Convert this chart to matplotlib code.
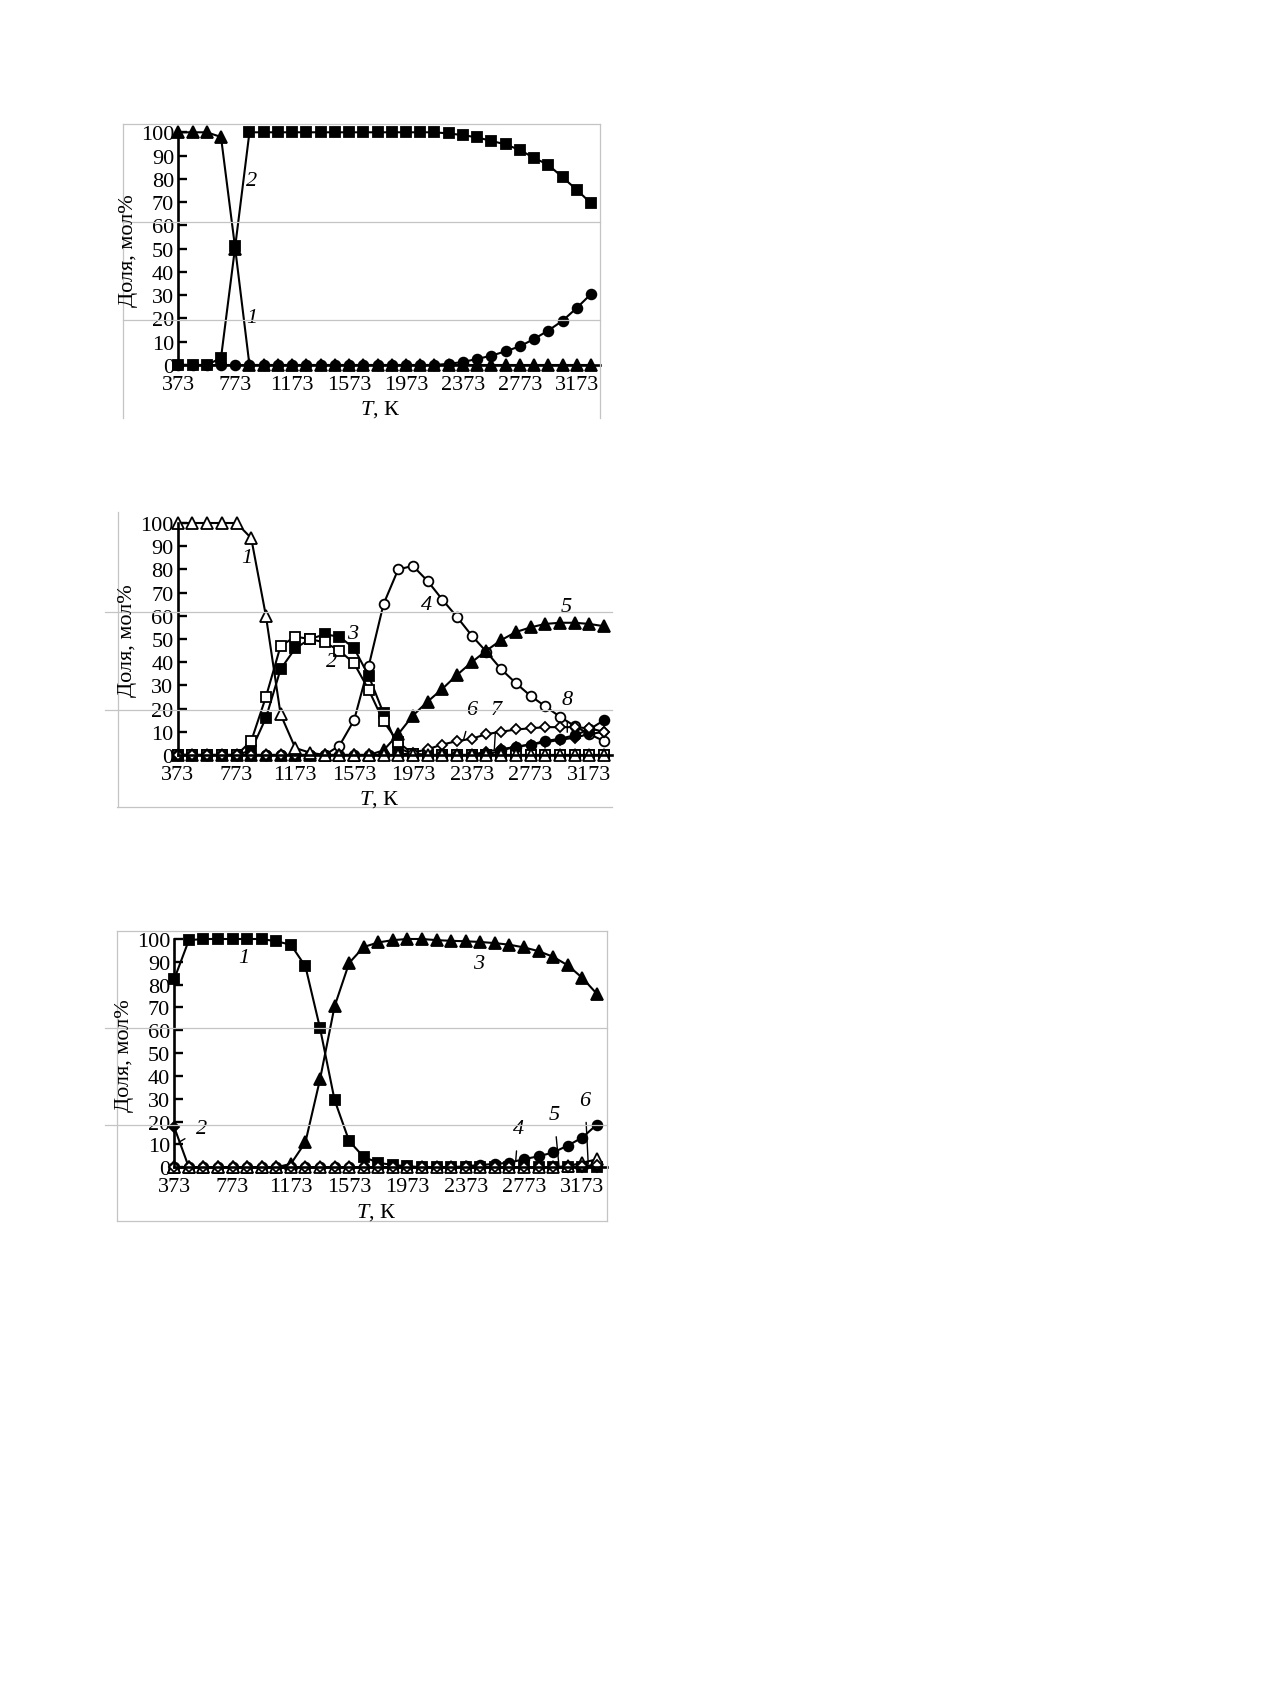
import matplotlib
matplotlib.use("Agg")
import matplotlib.pyplot as plt
from matplotlib.lines import Line2D

plt.rcParams['font.family'] = ['Liberation Serif', 'DejaVu Serif']
plt.rcParams['mathtext.fontset'] = 'custom'
plt.rcParams['mathtext.rm'] = 'Liberation Serif'
plt.rcParams['mathtext.it'] = 'Liberation Serif:italic'

W, H = 1269, 1683

# temperature grid, K
T = [373, 473, 573, 673, 773, 873, 973, 1073, 1173, 1273,
     1373, 1473, 1573, 1673, 1773, 1873, 1973, 2073, 2173, 2273,
     2373, 2473, 2573, 2673, 2773, 2873, 2973, 3073, 3173, 3273]
xticks = [373, 773, 1173, 1573, 1973, 2373, 2773, 3173]
yticks = [0, 10, 20, 30, 40, 50, 60, 70, 80, 90, 100]

# panel a
a_tri = [100, 100, 100, 98, 50, 0, 0, 0, 0, 0,
         0, 0, 0, 0, 0, 0, 0, 0, 0, 0,
         0, 0, 0, 0, 0, 0, 0, 0, 0, 0]
a_sq = [0, 0, 0, 3, 51, 100, 100, 100, 100, 100,
        100, 100, 100, 100, 100, 100, 100, 100, 100, 99.5,
        98.8, 97.8, 96.3, 94.8, 92.4, 89, 86, 80.7, 75.3, 69.5]
a_circ = [0, 0, 0, 0, 0, 0, 0, 0, 0, 0,
          0, 0, 0, 0, 0, 0, 0, 0, 0, 0.5,
          1.3, 2.6, 4, 5.9, 8, 11.2, 14.8, 19, 24.5, 30.5]

# panel b
b1 = [100, 100, 100, 100, 100, 93.5, 60, 17.5, 3, 1,
      0, 0, 0, 0, 0, 0, 0, 0, 0, 0,
      0, 0, 0, 0, 0, 0, 0, 0, 0, 0]
b2 = [0, 0, 0, 0, 0, 6, 25, 47, 51, 50,
      48.5, 45, 39.5, 28, 14.5, 5.5, 0.5, 0, 0, 0,
      0, 0, 0, 0, 0, 0, 0, 0, 0, 0]
b3 = [0, 0, 0, 0, 0, 2, 16, 37, 46, 50,
      52, 51, 46, 34, 18, 3, 0.5, 0, 0, 0,
      0, 0, 0, 0, 0, 0, 0, 0, 0, 0]
b4 = [0, 0, 0, 0, 0, 0, 0, 0, 0, 0,
      0, 4, 15, 38.5, 65, 80, 81.5, 75, 67, 59.5,
      51.5, 44.5, 37, 31, 25.5, 21, 16.5, 12.5, 9, 6]
b5 = [0, 0, 0, 0, 0, 0, 0, 0, 0, 0,
      0, 0, 0, 0, 2, 9, 17, 23, 28.5, 34.5,
      40, 45, 49.5, 53, 55, 56.5, 57, 57, 56.5, 55.5]
b6 = [0, 0, 0, 0, 0, 0, 0, 0, 0, 0,
      0, 0, 0, 0, 0, 0, 1, 2.5, 4.5, 6,
      7, 9, 10, 11, 11.5, 12, 12, 12, 11.5, 10]
b7 = [0, 0, 0, 0, 0, 0, 0, 0, 0, 0,
      0, 0, 0, 0, 0, 0, 0, 0, 0, 0,
      0, 1.5, 2.5, 3.5, 4.5, 5.5, 6.5, 7.5, 9, 10]
b8 = [0, 0, 0, 0, 0, 0, 0, 0, 0, 0,
      0, 0, 0, 0, 0, 0, 0, 0, 0, 0,
      0, 0, 2, 3.5, 4.5, 6, 7, 8.5, 11, 15]

# panel c
c1 = [82.5, 99.5, 100, 100, 100, 100, 100, 99, 97.5, 88,
      61, 29.5, 11.5, 4.5, 2, 1, 0.5, 0, 0, 0,
      0, 0, 0, 0, 0, 0, 0, 0, 0, 0]
c2 = [17.5, 0, 0, 0, 0, 0, 0, 0, 0, 0,
      0, 0, 0, 0, 0, 0, 0, 0, 0, 0,
      0, 0, 0, 0, 0, 0, 0, 0, 0, 0]
c3 = [0, 0, 0, 0, 0, 0, 0, 0, 1.5, 11,
      38.5, 70.5, 89.5, 96.5, 98.5, 99.5, 100, 100, 99.5, 99.2,
      99, 98.7, 98.2, 97.5, 96.3, 94.7, 92.2, 88.5, 83, 76]
c4 = [0, 0, 0, 0, 0, 0, 0, 0, 0, 0,
      0, 0, 0, 0, 0, 0, 0, 0, 0, 0,
      0.5, 1, 1.5, 2, 3.6, 4.8, 6.5, 9.5, 13, 18.7]
c5 = [0, 0, 0, 0, 0, 0, 0, 0, 0, 0,
      0, 0, 0, 0, 0, 0, 0, 0, 0, 0,
      0, 0, 0, 0, 0, 0, 0, 0.5, 2, 3.5]
c6 = [0, 0, 0, 0, 0, 0, 0, 0, 0, 0,
      0, 0, 0, 0, 0, 0, 0, 0, 0, 0,
      0, 0, 0, 0, 0, 0, 0, 0, 0.5, 1]

FS = 16
GRAY = '#c4c4c4'

fig = plt.figure(figsize=(W / 100, H / 100), dpi=100)


def fx(px):
    return px / W


def fy(py):
    return 1 - py / H


def make_axes(left, right, top, bottom, step):
    ax = fig.add_axes([fx(left), fy(bottom), (right - left) / W, (bottom - top) / H])
    ax.set_xlim(373, 373 + (right - left) / step * 100)
    ax.set_ylim(0, 100)
    for s in ['top', 'right']:
        ax.spines[s].set_visible(False)
    for s in ['left', 'bottom']:
        ax.spines[s].set_linewidth(1.9)
    ax.set_xticks(xticks)
    ax.set_yticks(yticks)
    ax.tick_params(axis='y', direction='in', length=6.5, width=1.7, pad=3, labelsize=FS)
    ax.tick_params(axis='x', length=0, pad=7, labelsize=FS)
    ax.patch.set_alpha(0)
    # y label and x label
    fig.text(fx(left - 50), fy((top + bottom) / 2 + 1), 'Доля, мол%', rotation=90,
             ha='center', va='center', fontsize=FS)
    fig.text(fx(left + 202), fy(bottom + 44), '$T$, К', ha='center', va='center', fontsize=FS)
    return ax


def series(ax, y, marker, filled, ms):
    ax.plot(T, y, color='black', lw=1.5, marker=marker, ms=ms,
            mfc='black' if filled else 'white', mec='black', mew=1.3, clip_on=False)


def tag(ax, text, xy, xy_end=None):
    if xy_end is None:
        ax.text(xy[0], xy[1], text, ha='center', va='center', fontsize=FS, style='italic')
    else:
        ax.annotate(text, xy=xy_end, xytext=xy, ha='center', va='center', fontsize=FS,
                    style='italic', arrowprops=dict(arrowstyle='-', lw=1.0, color='black',
                                                    shrinkA=7, shrinkB=0))


def gray(x0, y0, x1, y1):
    fig.add_artist(Line2D([fx(x0), fx(x1)], [fy(y0), fy(y1)], color=GRAY, lw=0.9))


# scan frame traces
gray(123, 125, 600, 125)
gray(123, 125, 123, 419)
gray(600, 125, 600, 419)
gray(123, 223.3, 600, 223.3)
gray(123, 320.7, 600, 320.7)

gray(117.7, 513, 117.7, 808.3)
gray(116.7, 808.3, 612, 808.3)
gray(105, 613.3, 612, 613.3)
gray(105, 710.7, 612, 710.7)

gray(116.7, 931.7, 606.7, 931.7)
gray(116.7, 1221.7, 606.7, 1221.7)
gray(116.7, 931.7, 116.7, 1221.7)
gray(606.7, 931.7, 606.7, 1221.7)
gray(105, 1029.3, 606.7, 1029.3)
gray(105, 1126, 606.7, 1126)

# panel a
ax1 = make_axes(178.3, 600, 133.3, 366, 14.23)
series(ax1, a_circ, 'o', True, 7)
series(ax1, a_sq, 's', True, 6.8)
series(ax1, a_tri, '^', True, 8.5)
tag(ax1, '2', (889, 79.2))
tag(ax1, '1', (889, 20.5))

# panel b
ax2 = make_axes(177.7, 611.7, 524, 756, 14.7)
series(ax2, b3, 's', True, 6.8)
series(ax2, b2, 's', False, 7)
series(ax2, b4, 'o', False, 7)
series(ax2, b5, '^', True, 8.5)
series(ax2, b8, 'o', True, 7)
series(ax2, b7, 'D', True, 5)
series(ax2, b6, 'D', False, 5.3)
series(ax2, b1, '^', False, 8.5)
tag(ax2, '1', (842, 85))
tag(ax2, '3', (1561, 52.2))
tag(ax2, '2', (1420, 40.3))
tag(ax2, '4', (2067, 64.7))
tag(ax2, '5', (3019, 64))
tag(ax2, '6', (2373, 19.5), (2316, 6.2))
tag(ax2, '7', (2543, 19.5), (2527, 2.6))
tag(ax2, '8', (3023, 23.8), (3023, 9.8))

# panel c
ax3 = make_axes(174.3, 606.7, 940, 1168.3, 14.57)
series(ax3, c1, 's', True, 6.8)
series(ax3, c2, 'D', True, 5.3)
series(ax3, c3, '^', True, 8.5)
series(ax3, c4, 'o', True, 7)
series(ax3, c5, '^', False, 8)
series(ax3, c6, 'D', False, 5.3)
tag(ax3, '1', (847, 92))
tag(ax3, '3', (2459, 89.4))
tag(ax3, '2', (561, 16.8), (405, 11))
tag(ax3, '4', (2734, 16.8), (2716, 2.6))
tag(ax3, '5', (2980, 23), (3014, 0))
tag(ax3, '6', (3192, 29.3), (3214, 1.4))

fig.savefig('out.png', dpi=100)
